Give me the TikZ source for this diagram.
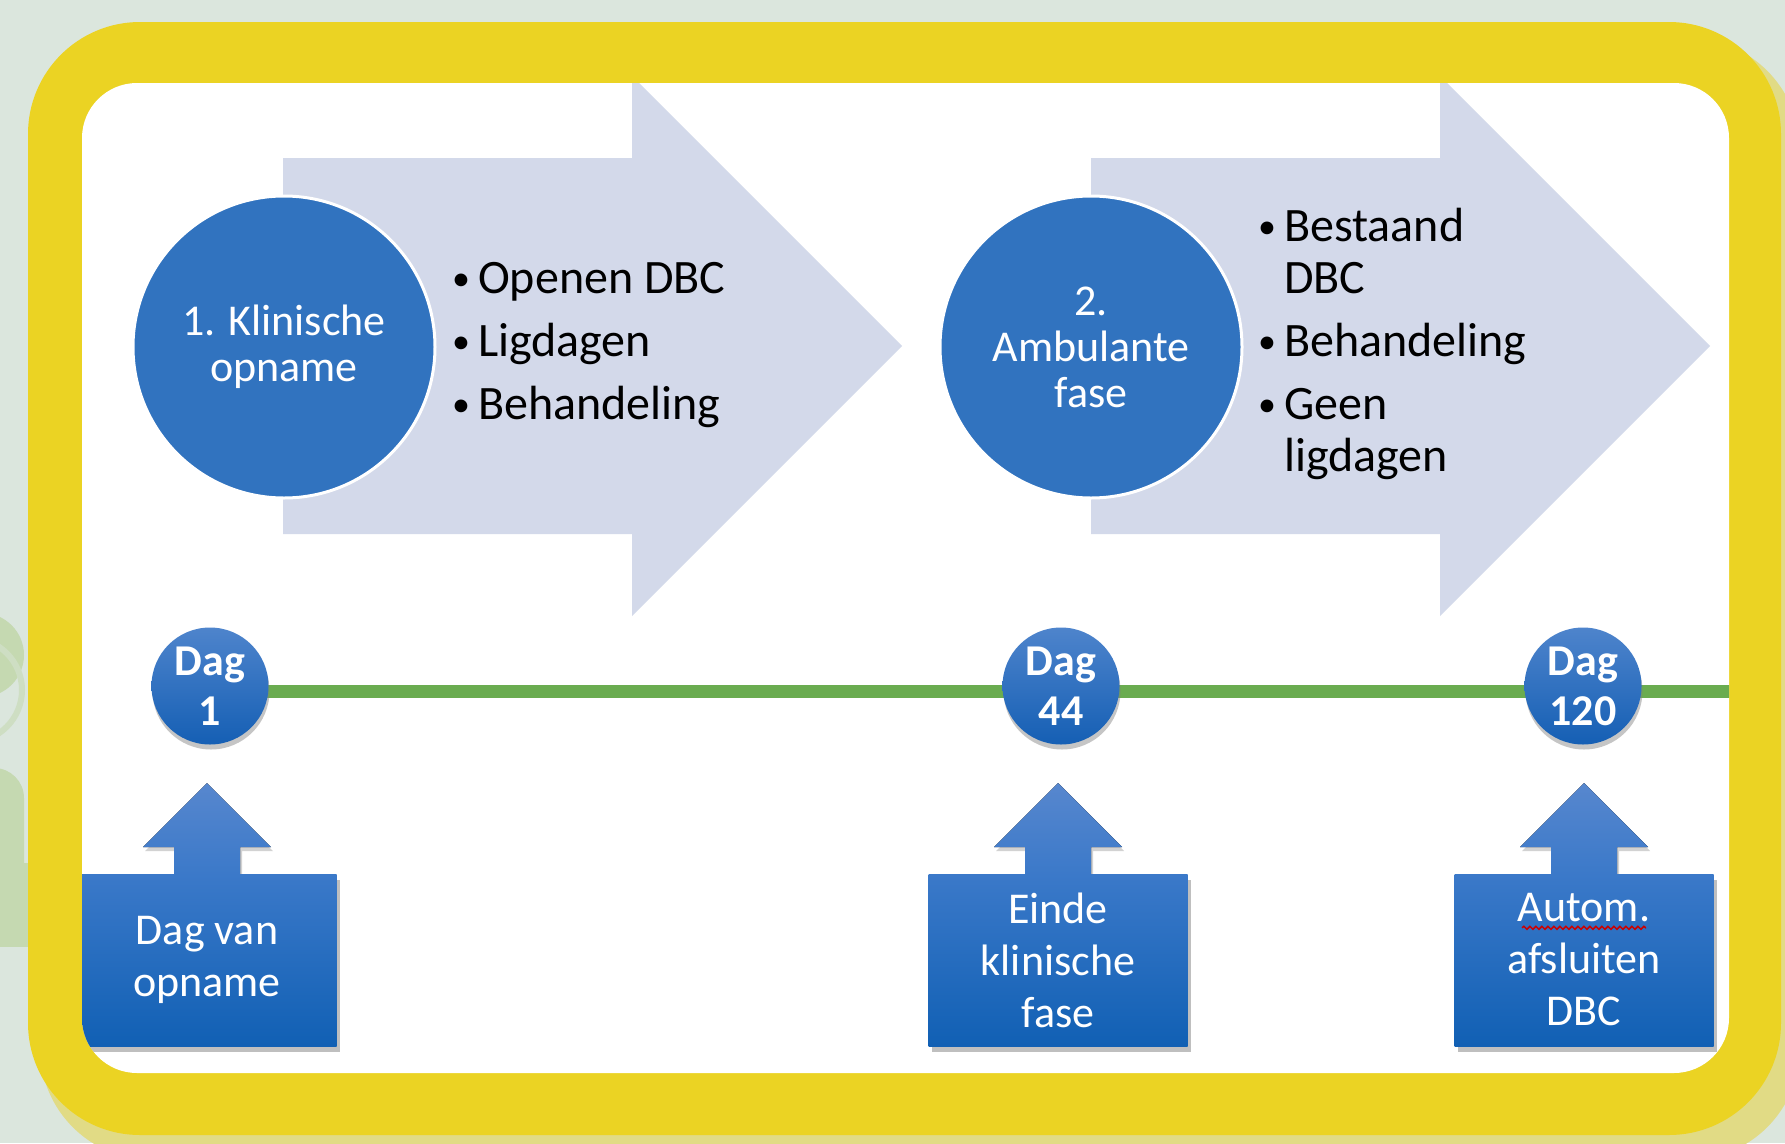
\documentclass[tikz,border=0pt]{standalone}
\usepackage{fontspec}
\setmainfont{Carlito}
\usetikzlibrary{calc}
\usetikzlibrary{shadows}
\usetikzlibrary{decorations.pathmorphing}

\definecolor{bgGrey}{HTML}{DBE6DD}
\definecolor{paleGreen}{HTML}{C5D9B1}
\definecolor{frameShade}{HTML}{E1DB85}
\definecolor{frameYellow}{HTML}{EBD323}
\definecolor{arrowLilac}{HTML}{D3D9EA}
\definecolor{phaseBlue}{HTML}{3173BF}
\definecolor{boxTop}{HTML}{3B79C9}
\definecolor{boxBottom}{HTML}{1160B4}
\definecolor{tipTop}{HTML}{5787CE}
\definecolor{dagTop}{HTML}{4E84CC}
\definecolor{dagBottom}{HTML}{155FB4}
\definecolor{lineGreen}{HTML}{6AAC50}

\newcommand{\blt}{\makebox[27pt][l]{\hspace{1pt}\raisebox{3pt}{\fontsize{36}{36}\selectfont\textbullet}}}

\begin{document}
\begin{tikzpicture}[x=1pt,y=-1pt,
      phase/.style={circle,fill=phaseBlue,draw=white,line width=3pt,minimum size=302pt,inner sep=0pt,
            text=white,align=center,font=\fontsize{44}{46}\selectfont},
      bullets/.style={anchor=west,align=left,inner sep=0pt,font=\fontsize{48}{52}\selectfont},
      dag/.style={circle,minimum size=117pt,inner sep=0pt,top color=dagTop,bottom color=dagBottom,
            text=white,align=center,font=\bfseries\fontsize{44}{50}\selectfont,
            drop shadow={shadow xshift=1pt,shadow yshift=-5pt,opacity=0.45}},
      event/.style={rectangle,minimum width=259pt,minimum height=172pt,inner sep=0pt,
            top color=boxTop,bottom color=boxBottom,text=white,align=center,font=\fontsize{44}{52}\selectfont,
            drop shadow={shadow xshift=3pt,shadow yshift=-6pt,opacity=0.5}},
      uparrow/.style={top color=tipTop,bottom color=boxTop,
            drop shadow={shadow xshift=2pt,shadow yshift=-4pt,opacity=0.35}},
      chevron/.style={fill=arrowLilac},
      timeline/.style={lineGreen,line width=13pt},
      squiggle/.style={red!80!black,line width=1.5pt,decorate,decoration={snake,amplitude=1.5pt,segment length=6pt}}]
      \useasboundingbox (0,0) rectangle (1785,1143);
      % backdrop and frame
      \fill[bgGrey] (0,0) rectangle (1785,1143);
      \fill[paleGreen] (-18,655) circle (42pt);
      \draw[paleGreen!60!bgGrey,line width=6pt] (-30,690) circle (52pt);
      \fill[paleGreen,rounded corners=30pt] (-60,768) rectangle (24,947);
      \fill[paleGreen] (-10,863) rectangle (30,947);
      \fill[frameShade,rounded corners=112pt] (40,38) rectangle (1800,1160);
      \fill[frameYellow,rounded corners=112pt] (28,22) rectangle (1781,1135);
      \fill[white,rounded corners=55pt] (82,83) rectangle (1729,1073);
      \begin{scope}
            \clip[rounded corners=55pt] (82,83) rectangle (1729,1073);
            % phases
            \fill[chevron] (283,158) -- (632,158) -- (632,76) -- (902,346) -- (632,616) -- (632,534) -- (283,534) -- cycle;
            \fill[chevron] (1091,158) -- (1440,158) -- (1440,76) -- (1710,346) -- (1440,616) -- (1440,534) -- (1091,534) -- cycle;
            \node[phase] (fase1) at (284,347) {1. Klinische\\opname};
            \node[phase] (fase2) at (1091,347) {2.\\Ambulante\\fase};
            \node[bullets] (lijst1) at (451,345) {\blt Openen DBC\\[11pt]\blt Ligdagen\\[11pt]\blt Behandeling};
            \node[bullets] (lijst2) at (1257,344) {\blt Bestaand\\\hspace*{27pt}DBC\\[11pt]\blt Behandeling\\[11pt]\blt Geen\\\hspace*{27pt}ligdagen};
            % timeline
            \coordinate (t1) at (210,686);
            \coordinate (t2) at (1061,686);
            \coordinate (t3) at (1583,686);
            \coordinate (lijnbegin) at (260,691);
            \coordinate (lijneinde) at (1740,691);
            \draw[timeline] (lijnbegin) -- (lijneinde);
            \node[dag] (dag1) at (t1) {Dag\\1};
            \node[dag] (dag2) at (t2) {Dag\\44};
            \node[dag] (dag3) at (t3) {Dag\\120};
            % events
            \coordinate (e1) at (207,960);
            \coordinate (e2) at (1058,960);
            \coordinate (e3) at (1584,960);
            \fill[uparrow] ($(e1)+(-33,-85)$) -- ++(0,-28) -- ++(-31,0) -- ++(64,-64) -- ++(64,64) -- ++(-31,0) -- ++(0,28) -- cycle;
            \fill[uparrow] ($(e2)+(-33,-85)$) -- ++(0,-28) -- ++(-31,0) -- ++(64,-64) -- ++(64,64) -- ++(-31,0) -- ++(0,28) -- cycle;
            \fill[uparrow] ($(e3)+(-33,-85)$) -- ++(0,-28) -- ++(-31,0) -- ++(64,-64) -- ++(64,64) -- ++(-31,0) -- ++(0,28) -- cycle;
            \node[event] (ev1) at (e1) {Dag van\\opname};
            \node[event] (ev2) at (e2) {Einde\\klinische\\fase};
            \node[event] (ev3) at (e3) {Autom.\\afsluiten\\DBC};
            \draw[squiggle] ($(ev3.north)+(-62,54)$) -- ++(124,0);
      \end{scope}
\end{tikzpicture}
\end{document}
